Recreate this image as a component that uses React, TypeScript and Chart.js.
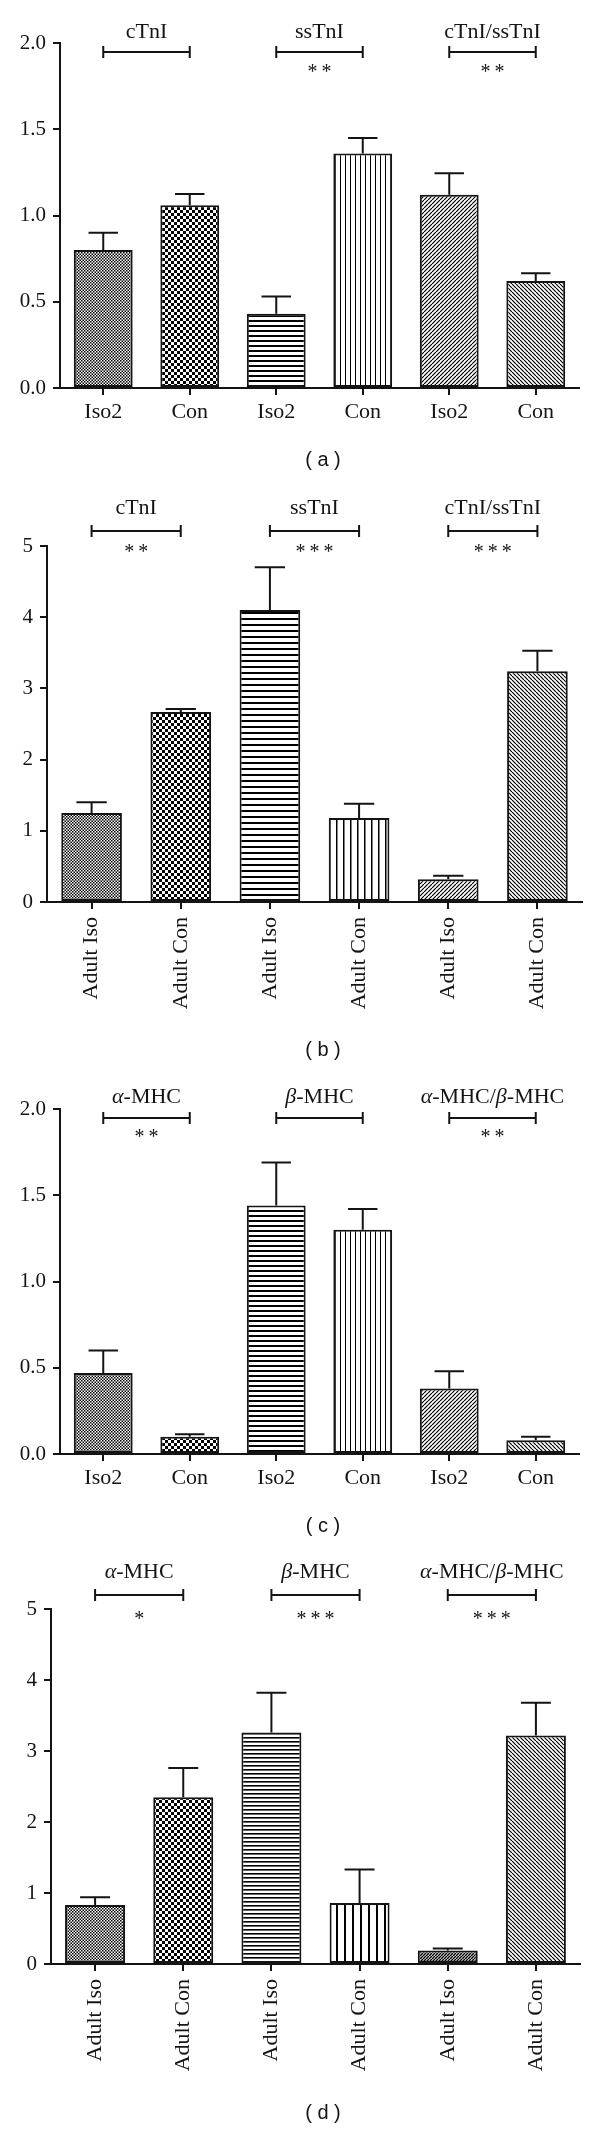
import React, { useEffect, useRef } from "react";
import { Chart, registerables } from "chart.js";

Chart.register(...registerables);

const SERIF = '"Liberation Serif", "Times New Roman", serif';
const SANS = '"Liberation Sans", Arial, sans-serif';
const INK = "#141414";

// ---------- Panel (a) ----------
const labelsA = ["Iso2", "Con", "Iso2", "Con", "Iso2", "Con"];
const valuesA = [0.8, 1.06, 0.43, 1.36, 1.12, 0.62];
const errorsA = [0.1, 0.065, 0.1, 0.09, 0.125, 0.045];
const groupsA = ["cTnI", "ssTnI", "cTnI/ssTnI"];
const starsA = [0, 2, 2];
const yTicksA = [0, 0.5, 1, 1.5, 2];

// ---------- Panel (b) ----------
const labelsB = ["Adult Iso", "Adult Con", "Adult Iso", "Adult Con", "Adult Iso", "Adult Con"];
const valuesB = [1.25, 2.67, 4.1, 1.18, 0.32, 3.24];
const errorsB = [0.15, 0.04, 0.6, 0.2, 0.05, 0.29];
const groupsB = ["cTnI", "ssTnI", "cTnI/ssTnI"];
const starsB = [2, 3, 3];
const yTicksB = [0, 1, 2, 3, 4, 5];

// ---------- Panel (c) ----------
const labelsC = ["Iso2", "Con", "Iso2", "Con", "Iso2", "Con"];
const valuesC = [0.47, 0.1, 1.44, 1.3, 0.38, 0.08];
const errorsC = [0.13, 0.015, 0.25, 0.12, 0.1, 0.02];
const groupsC = ["α-MHC", "β-MHC", "α-MHC/β-MHC"];
const starsC = [2, 0, 2];
const yTicksC = [0, 0.5, 1, 1.5, 2];

// ---------- Panel (d) ----------
const labelsD = ["Adult Iso", "Adult Con", "Adult Iso", "Adult Con", "Adult Iso", "Adult Con"];
const valuesD = [0.83, 2.35, 3.26, 0.86, 0.19, 3.22];
const errorsD = [0.11, 0.41, 0.56, 0.47, 0.03, 0.46];
const groupsD = ["α-MHC", "β-MHC", "α-MHC/β-MHC"];
const starsD = [1, 3, 3];
const yTicksD = [0, 1, 2, 3, 4, 5];

// ---------- pattern helpers ----------
type PSpec =
  | { kind: "checker"; s: number }
  | { kind: "h"; p: number; lw: number }
  | { kind: "v"; p: number; lw: number }
  | { kind: "diag"; dir: 1 | -1; p: number; lw: number };

function tile(w: number, h: number, draw: (g: CanvasRenderingContext2D) => void) {
  const c = document.createElement("canvas");
  c.width = w;
  c.height = h;
  const g = c.getContext("2d")!;
  g.fillStyle = "#fff";
  g.fillRect(0, 0, w, h);
  g.fillStyle = "#000";
  g.strokeStyle = "#000";
  draw(g);
  return c;
}

function makeTile(sp: PSpec) {
  if (sp.kind === "checker") {
    const s = sp.s;
    const w = Math.round(2 * s);
    return tile(w, w, (g) => {
      g.fillRect(0, 0, s, s);
      g.fillRect(s, s, s, s);
    });
  }
  if (sp.kind === "h") return tile(4, sp.p, (g) => g.fillRect(0, 0, 4, sp.lw));
  if (sp.kind === "v") return tile(sp.p, 4, (g) => g.fillRect(0, 0, sp.lw, 4));
  const p = sp.p;
  return tile(p, p, (g) => {
    g.lineWidth = sp.lw;
    g.beginPath();
    for (let k = -1; k <= 1; k++) {
      if (sp.dir === 1) {
        g.moveTo(k * p, p);
        g.lineTo(k * p + p, 0);
      } else {
        g.moveTo(k * p, 0);
        g.lineTo(k * p + p, p);
      }
    }
    g.stroke();
  });
}

// ---------- drawing helpers ----------
function drawRich(ctx: CanvasRenderingContext2D, text: string, cx: number, cy: number, size: number) {
  const segs: { t: string; it: boolean; w: number }[] = [];
  for (const ch of text) {
    const it = /[α-ω]/.test(ch);
    const last = segs[segs.length - 1];
    if (last && last.it === it) last.t += ch;
    else segs.push({ t: ch, it, w: 0 });
  }
  const fontOf = (it: boolean) => `${it ? "italic " : ""}${size}px ${SERIF}`;
  let total = 0;
  for (const s of segs) {
    ctx.font = fontOf(s.it);
    s.w = ctx.measureText(s.t).width;
    total += s.w;
  }
  let x = cx - total / 2;
  ctx.textAlign = "left";
  ctx.textBaseline = "middle";
  for (const s of segs) {
    ctx.font = fontOf(s.it);
    ctx.fillText(s.t, x, cy);
    x += s.w;
  }
}

function drawStars(ctx: CanvasRenderingContext2D, n: number, cx: number, cy: number) {
  ctx.font = `20px ${SERIF}`;
  ctx.textAlign = "center";
  ctx.textBaseline = "alphabetic";
  const m = ctx.measureText("*");
  const off = (m.actualBoundingBoxAscent - m.actualBoundingBoxDescent) / 2;
  for (let k = 0; k < n; k++) {
    ctx.fillText("*", cx + (k - (n - 1) / 2) * 14, cy + off);
  }
}

type PanelCfg = {
  top: number;
  height: number;
  labels: string[];
  values: number[];
  errors: number[];
  groups: string[];
  stars: number[];
  yTicks: number[];
  yMax: number;
  decimals: number;
  padTop: number;
  padRight: number;
  yWidth: number;
  xHeight: number;
  rotation: number;
  xPad: number;
  letter: string;
  labelY: number;
  bracketY: number;
  starY: number;
  letterY: number;
  patterns: PSpec[];
};

const basePatterns: PSpec[] = [
  { kind: "checker", s: 1.5 },
  { kind: "checker", s: 3 },
  { kind: "h", p: 5, lw: 2 },
  { kind: "v", p: 5, lw: 1 },
  { kind: "diag", dir: 1, p: 4, lw: 1.2 },
  { kind: "diag", dir: -1, p: 4, lw: 1.2 },
];

const panels: PanelCfg[] = [
  {
    top: 0, height: 480, labels: labelsA, values: valuesA, errors: errorsA, groups: groupsA,
    stars: starsA, yTicks: yTicksA, yMax: 2, decimals: 1, padTop: 43, padRight: 21,
    yWidth: 60, xHeight: 92, rotation: 0, xPad: 4, letter: "( a )",
    labelY: 32, bracketY: 52, starY: 68, letterY: 460, patterns: basePatterns,
  },
  {
    top: 480, height: 585, labels: labelsB, values: valuesB, errors: errorsB, groups: groupsB,
    stars: starsB, yTicks: yTicksB, yMax: 5, decimals: 0, padTop: 66, padRight: 18,
    yWidth: 47, xHeight: 163, rotation: 90, xPad: 8, letter: "( b )",
    labelY: 28, bracketY: 51, starY: 68, letterY: 570,
    patterns: [
      { kind: "checker", s: 1.5 },
      { kind: "checker", s: 3 },
      { kind: "h", p: 6, lw: 2 },
      { kind: "v", p: 7, lw: 1.5 },
      { kind: "diag", dir: 1, p: 4, lw: 1.2 },
      { kind: "diag", dir: -1, p: 4, lw: 1.2 },
    ],
  },
  {
    top: 1065, height: 480, labels: labelsC, values: valuesC, errors: errorsC, groups: groupsC,
    stars: starsC, yTicks: yTicksC, yMax: 2, decimals: 1, padTop: 44, padRight: 21,
    yWidth: 60, xHeight: 91, rotation: 0, xPad: 4, letter: "( c )",
    labelY: 32, bracketY: 53, starY: 68, letterY: 461, patterns: basePatterns,
  },
  {
    top: 1545, height: 585, labels: labelsD, values: valuesD, errors: errorsD, groups: groupsD,
    stars: starsD, yTicks: yTicksD, yMax: 5, decimals: 0, padTop: 64, padRight: 20,
    yWidth: 51, xHeight: 166, rotation: 90, xPad: 8, letter: "( d )",
    labelY: 27, bracketY: 50, starY: 70, letterY: 568,
    patterns: [
      { kind: "checker", s: 1.5 },
      { kind: "checker", s: 3 },
      { kind: "h", p: 4, lw: 1.6 },
      { kind: "v", p: 8, lw: 2 },
      { kind: "diag", dir: 1, p: 3, lw: 1.5 },
      { kind: "diag", dir: -1, p: 4, lw: 1.2 },
    ],
  },
];

function buildChart(canvas: HTMLCanvasElement, cfg: PanelCfg) {
  const ctx = canvas.getContext("2d")!;
  const fills = cfg.patterns.map((p) => ctx.createPattern(makeTile(p), "repeat")!);

  const errPlugin = {
    id: "errbars",
    afterDatasetsDraw(chart: any) {
      const c = chart.ctx as CanvasRenderingContext2D;
      const ys = chart.scales.y;
      const meta = chart.getDatasetMeta(0);
      c.save();
      c.strokeStyle = INK;
      c.lineWidth = 2;
      meta.data.forEach((bar: any, i: number) => {
        const v = cfg.values[i];
        const e = cfg.errors[i];
        const y0 = ys.getPixelForValue(v);
        const y1 = ys.getPixelForValue(v + e);
        const half = bar.width / 4;
        c.beginPath();
        c.moveTo(bar.x, y0);
        c.lineTo(bar.x, y1);
        c.moveTo(bar.x - half, y1);
        c.lineTo(bar.x + half, y1);
        c.stroke();
      });
      c.restore();
    },
  };

  const annPlugin = {
    id: "annot",
    afterDraw(chart: any) {
      const c = chart.ctx as CanvasRenderingContext2D;
      const xs = chart.scales.x;
      c.save();
      c.fillStyle = INK;
      c.strokeStyle = INK;
      c.lineWidth = 2;
      cfg.groups.forEach((g, gi) => {
        const xa = xs.getPixelForValue(gi * 2);
        const xb = xs.getPixelForValue(gi * 2 + 1);
        const cx = (xa + xb) / 2;
        drawRich(c, g, cx, cfg.labelY, 22);
        c.beginPath();
        c.moveTo(xa, cfg.bracketY);
        c.lineTo(xb, cfg.bracketY);
        c.moveTo(xa, cfg.bracketY - 6);
        c.lineTo(xa, cfg.bracketY + 6);
        c.moveTo(xb, cfg.bracketY - 6);
        c.lineTo(xb, cfg.bracketY + 6);
        c.stroke();
        if (cfg.stars[gi] > 0) drawStars(c, cfg.stars[gi], cx, cfg.starY);
      });
      c.font = `20px ${SANS}`;
      c.textAlign = "center";
      c.textBaseline = "middle";
      c.fillText(cfg.letter, 323, cfg.letterY);
      c.restore();
    },
  };

  return new Chart(ctx, {
    type: "bar",
    data: {
      labels: cfg.labels,
      datasets: [
        {
          data: cfg.values,
          backgroundColor: fills as any,
          borderColor: INK,
          borderWidth: 2,
          borderSkipped: false,
          barPercentage: 0.68,
          categoryPercentage: 1,
        },
      ],
    },
    options: {
      responsive: false,
      animation: false,
      devicePixelRatio: 1,
      layout: { padding: { top: cfg.padTop, right: cfg.padRight, left: 0, bottom: 0 } },
      plugins: { legend: { display: false }, tooltip: { enabled: false } },
      scales: {
        x: {
          grid: { display: true, drawOnChartArea: false, drawTicks: true, tickLength: 7, offset: false, color: INK, lineWidth: 2 },
          border: { display: true, color: INK, width: 2 },
          ticks: {
            color: INK,
            font: { family: SERIF, size: 22 },
            padding: cfg.xPad,
            minRotation: cfg.rotation,
            maxRotation: cfg.rotation,
            autoSkip: false,
          },
          afterFit: (s: any) => {
            s.height = cfg.xHeight;
          },
        },
        y: {
          min: 0,
          max: cfg.yMax,
          grid: { display: true, drawOnChartArea: false, drawTicks: true, tickLength: 7, color: INK, lineWidth: 2 },
          border: { display: true, color: INK, width: 2 },
          ticks: {
            color: INK,
            font: { family: SERIF, size: 21 },
            padding: 7,
            callback: (v: any) => Number(v).toFixed(cfg.decimals),
          },
          afterBuildTicks: (s: any) => {
            s.ticks = cfg.yTicks.map((v) => ({ value: v }));
          },
          afterFit: (s: any) => {
            s.width = cfg.yWidth;
          },
        },
      },
    },
    plugins: [errPlugin, annPlugin],
  } as any);
}

function Panel({ cfg }: { cfg: PanelCfg }) {
  const ref = useRef<HTMLCanvasElement>(null);
  useEffect(() => {
    const chart = buildChart(ref.current!, cfg);
    return () => chart.destroy();
  }, [cfg]);
  return (
    <canvas
      ref={ref}
      width={600}
      height={cfg.height}
      style={{ position: "absolute", left: 0, top: cfg.top, width: 600, height: cfg.height, display: "block" }}
    />
  );
}

export default function App() {
  useEffect(() => {
    document.body.style.margin = "0";
    document.body.style.background = "#fff";
  }, []);
  return (
    <div style={{ position: "relative", width: 600, height: 2130, background: "#fff", overflow: "hidden" }}>
      {panels.map((p, i) => (
        <Panel key={i} cfg={p} />
      ))}
    </div>
  );
}
